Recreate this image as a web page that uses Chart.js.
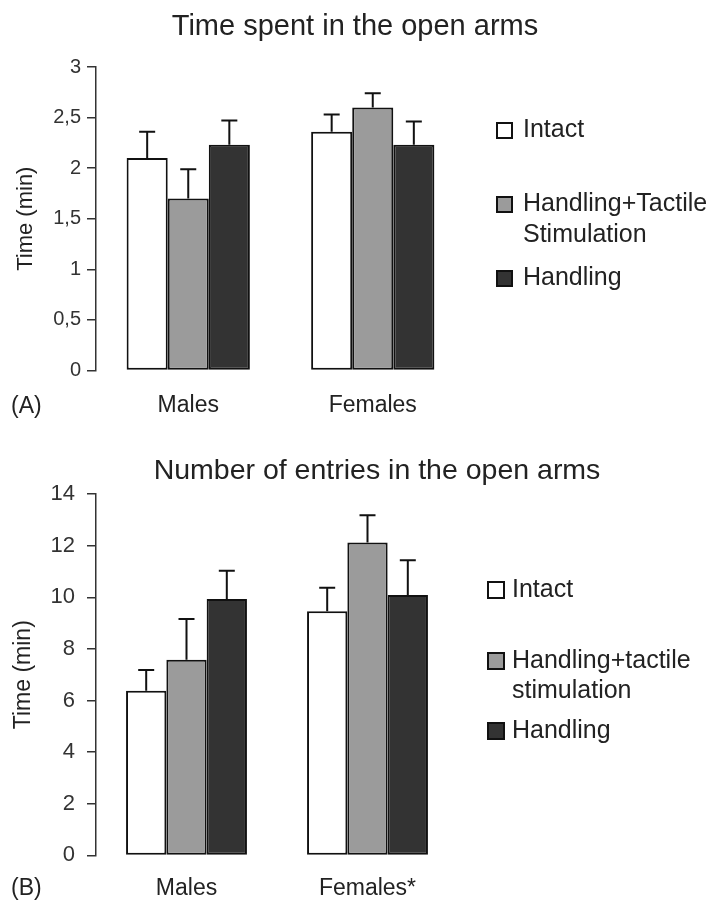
<!DOCTYPE html>
<html>
<head>
<meta charset="utf-8">
<script src="https://cdn.jsdelivr.net/npm/chart.js@4.4.0/dist/chart.umd.min.js"></script>
<style>
  body { margin: 0; background: #fff; }
  canvas { display: block; }
</style>
</head>
<body>
<canvas id="chartA" width="716" height="440"></canvas>
<canvas id="chartB" width="716" height="462"></canvas>
<script>
// panel A - time spent in the open arms (min)
const groupsA = ['Males', 'Females'];
const seriesA = ['Intact', 'Handling+Tactile\nStimulation', 'Handling'];
const timeIntact = [2.10, 2.36];
const timeIntactErr = [0.26, 0.17];
const timeTactile = [1.70, 2.60];
const timeTactileErr = [0.29, 0.14];
const timeHandling = [2.23, 2.23];
const timeHandlingErr = [0.24, 0.23];
const ticksA = ['0', '0,5', '1', '1,5', '2', '2,5', '3'];

// panel B - number of entries in the open arms
const groupsB = ['Males', 'Females*'];
const seriesB = ['Intact', 'Handling+tactile\nstimulation', 'Handling'];
const entriesIntact = [6.38, 9.46];
const entriesIntactErr = [0.80, 0.91];
const entriesTactile = [7.58, 12.12];
const entriesTactileErr = [1.58, 1.06];
const entriesHandling = [9.93, 10.09];
const entriesHandlingErr = [1.10, 1.34];
const ticksB = ['0', '2', '4', '6', '8', '10', '12', '14'];

const fills = ['#ffffff', '#9b9b9b', '#333333'];
const FONT = "'Liberation Sans', Arial, Helvetica, sans-serif";
const INK = '#222';

// error bars, drawn from the top of each bar upwards
const errorBars = {
  id: 'errorBars',
  afterDatasetsDraw(chart) {
    const ctx = chart.ctx;
    const y = chart.scales.y;
    ctx.save();
    ctx.strokeStyle = '#111';
    ctx.lineWidth = 2;
    chart.data.datasets.forEach((ds, d) => {
      const meta = chart.getDatasetMeta(d);
      meta.data.forEach((bar, i) => {
        const top = y.getPixelForValue(ds.data[i] + ds.errors[i]);
        ctx.beginPath();
        ctx.moveTo(bar.x, bar.y);
        ctx.lineTo(bar.x, top);
        ctx.moveTo(bar.x - 8, top);
        ctx.lineTo(bar.x + 8, top);
        ctx.stroke();
      });
    });
    ctx.restore();
  }
};

// title, legend at the right side and panel letter
const decor = {
  id: 'decor',
  afterDraw(chart, args, opts) {
    const ctx = chart.ctx;
    ctx.save();
    ctx.textBaseline = 'alphabetic';
    ctx.fillStyle = INK;
    ctx.font = opts.titleSize + 'px ' + FONT;
    ctx.textAlign = 'center';
    ctx.fillText(opts.title, opts.titleX, opts.titleY);
    ctx.textAlign = 'left';
    ctx.font = opts.fontSize + 'px ' + FONT;
    chart.data.datasets.forEach((ds, d) => {
      const base = opts.baselines[d];
      ctx.fillStyle = ds.backgroundColor;
      ctx.fillRect(opts.boxX, base - opts.box + 2, opts.box, opts.box);
      ctx.strokeStyle = '#111';
      ctx.lineWidth = 2;
      ctx.strokeRect(opts.boxX + 1, base - opts.box + 3, opts.box - 2, opts.box - 2);
      ctx.fillStyle = INK;
      ds.label.split('\n').forEach((line, k) => {
        ctx.fillText(line, opts.textX, base + k * opts.lineGap);
      });
    });
    ctx.font = opts.letterSize + 'px ' + FONT;
    ctx.fillText(opts.letter, opts.letterX, opts.letterY);
    ctx.restore();
  }
};

function makeDatasets(labels, values, errors) {
  return labels.map((label, i) => ({
    label: label,
    data: values[i],
    errors: errors[i],
    backgroundColor: fills[i],
    borderColor: '#111',
    borderWidth: 2,
    borderSkipped: false,
    categoryPercentage: 0.668,
    barPercentage: 1.0
  }));
}

function makeChart(id, cfg) {
  return new Chart(document.getElementById(id), {
    type: 'bar',
    data: {
      labels: cfg.groups,
      datasets: makeDatasets(cfg.series, cfg.values, cfg.errors)
    },
    options: {
      responsive: false,
      animation: false,
      layout: { padding: cfg.padding },
      plugins: {
        legend: { display: false },
        tooltip: { enabled: false },
        title: { display: false },
        decor: cfg.decor
      },
      scales: {
        x: {
          grid: { display: false, drawTicks: true, tickLength: cfg.xGap },
          border: { display: false },
          ticks: {
            color: INK,
            padding: 0,
            font: { family: FONT, size: cfg.xSize }
          }
        },
        y: {
          min: 0,
          max: cfg.max,
          afterFit(scale) { scale.width = 96; },
          border: { display: true, color: '#333', width: 1.5 },
          grid: {
            drawOnChartArea: false,
            drawTicks: true,
            tickLength: 9,
            color: '#333',
            lineWidth: 1.5
          },
          ticks: {
            stepSize: cfg.step,
            color: '#333',
            padding: cfg.yPad,
            font: { family: FONT, size: cfg.ySize },
            callback: (v, i) => cfg.ticks[i]
          },
          title: {
            display: true,
            text: 'Time (min)',
            color: INK,
            font: { family: FONT, size: cfg.yTitleSize },
            padding: { top: cfg.yTitlePad, bottom: 0 }
          }
        }
      }
    },
    plugins: [errorBars, decor]
  });
}

makeChart('chartA', {
  groups: groupsA,
  series: seriesA,
  values: [timeIntact, timeTactile, timeHandling],
  errors: [timeIntactErr, timeTactileErr, timeHandlingErr],
  padding: { top: 67, left: 0, right: 251, bottom: 21 },
  xGap: 21, xSize: 23,
  yPad: 6, ySize: 20,
  yTitleSize: 22, yTitlePad: 13,
  max: 3, step: 0.5, ticks: ticksA,
  decor: {
    title: 'Time spent in the open arms', titleSize: 29, titleX: 355, titleY: 35,
    fontSize: 25, box: 17, boxX: 496, textX: 523, lineGap: 31,
    baselines: [137, 211, 285],
    letter: '(A)', letterSize: 23, letterX: 11, letterY: 413
  }
});

makeChart('chartB', {
  groups: groupsB,
  series: seriesB,
  values: [entriesIntact, entriesTactile, entriesHandling],
  errors: [entriesIntactErr, entriesTactileErr, entriesHandlingErr],
  padding: { top: 54, left: 0, right: 258, bottom: 0 },
  xGap: 19, xSize: 23,
  yPad: 12, ySize: 22,
  yTitleSize: 23, yTitlePad: 10,
  max: 14, step: 2, ticks: ticksB,
  decor: {
    title: 'Number of entries in the open arms', titleSize: 28.5, titleX: 377, titleY: 39,
    fontSize: 25, box: 18, boxX: 487, textX: 512, lineGap: 30,
    baselines: [157, 228, 298],
    letter: '(B)', letterSize: 23, letterX: 11, letterY: 455
  }
});
</script>
</body>
</html>
